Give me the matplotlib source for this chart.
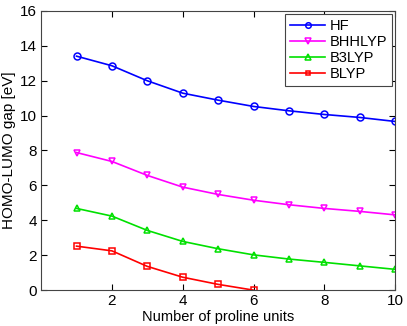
import numpy as np
import matplotlib
matplotlib.use("Agg")
import matplotlib.pyplot as plt

plt.rcParams['font.family'] = ['Liberation Sans', 'DejaVu Sans']

units = [1, 2, 3, 4, 5, 6, 7, 8, 9, 10]
hf = [13.40, 12.85, 11.99, 11.28, 10.88, 10.52, 10.27, 10.06, 9.89, 9.66]
bhhlyp = [7.88, 7.37, 6.57, 5.90, 5.48, 5.15, 4.89, 4.68, 4.51, 4.31]
b3lyp = [4.68, 4.24, 3.42, 2.79, 2.37, 2.02, 1.78, 1.59, 1.39, 1.19]
blyp_units = [1, 2, 3, 4, 5, 6]
blyp = [2.52, 2.25, 1.36, 0.74, 0.33, 0.0]

fig = plt.figure(figsize=(4.07, 3.26), dpi=100)
ax = fig.add_axes([0.101, 0.110, 0.870, 0.857])

ax.plot(units, hf, '-o', color='blue', mfc='none', ms=5, lw=1.2, mew=1.1, label='HF')
ax.plot(units, bhhlyp, '-v', color='magenta', mfc='none', ms=5, lw=1.2, mew=1.1, label='BHHLYP')
ax.plot(units, b3lyp, '-^', color='#00e000', mfc='none', ms=5, lw=1.2, mew=1.1, label='B3LYP')
ax.plot(blyp_units, blyp, '-s', color='red', mfc='none', ms=4, lw=1.2, mew=1.1, label='BLYP')

ax.set_xlim(0, 10)
ax.set_ylim(0, 16)
ax.set_xticks([2, 4, 6, 8, 10])
ax.set_yticks(np.arange(0, 17, 2))
ax.tick_params(direction='in', top=True, right=True, labelsize=11, length=4, pad=3)
for s in ax.spines.values():
    s.set_color('#444444')

ax.set_xlabel('Number of proline units', fontsize=10.5, labelpad=1)
ax.set_ylabel('HOMO-LUMO gap [eV]', fontsize=11, labelpad=3)

leg = ax.legend(loc='upper right', bbox_to_anchor=(0.991, 0.987), borderaxespad=0,
                fontsize=10.5, fancybox=False, edgecolor='#444444', framealpha=1,
                borderpad=0.35, labelspacing=0.12, handlelength=2.4, handletextpad=0.3,
                markerscale=0.8)
leg.get_frame().set_linewidth(0.8)

fig.savefig('out.png', dpi=100)
